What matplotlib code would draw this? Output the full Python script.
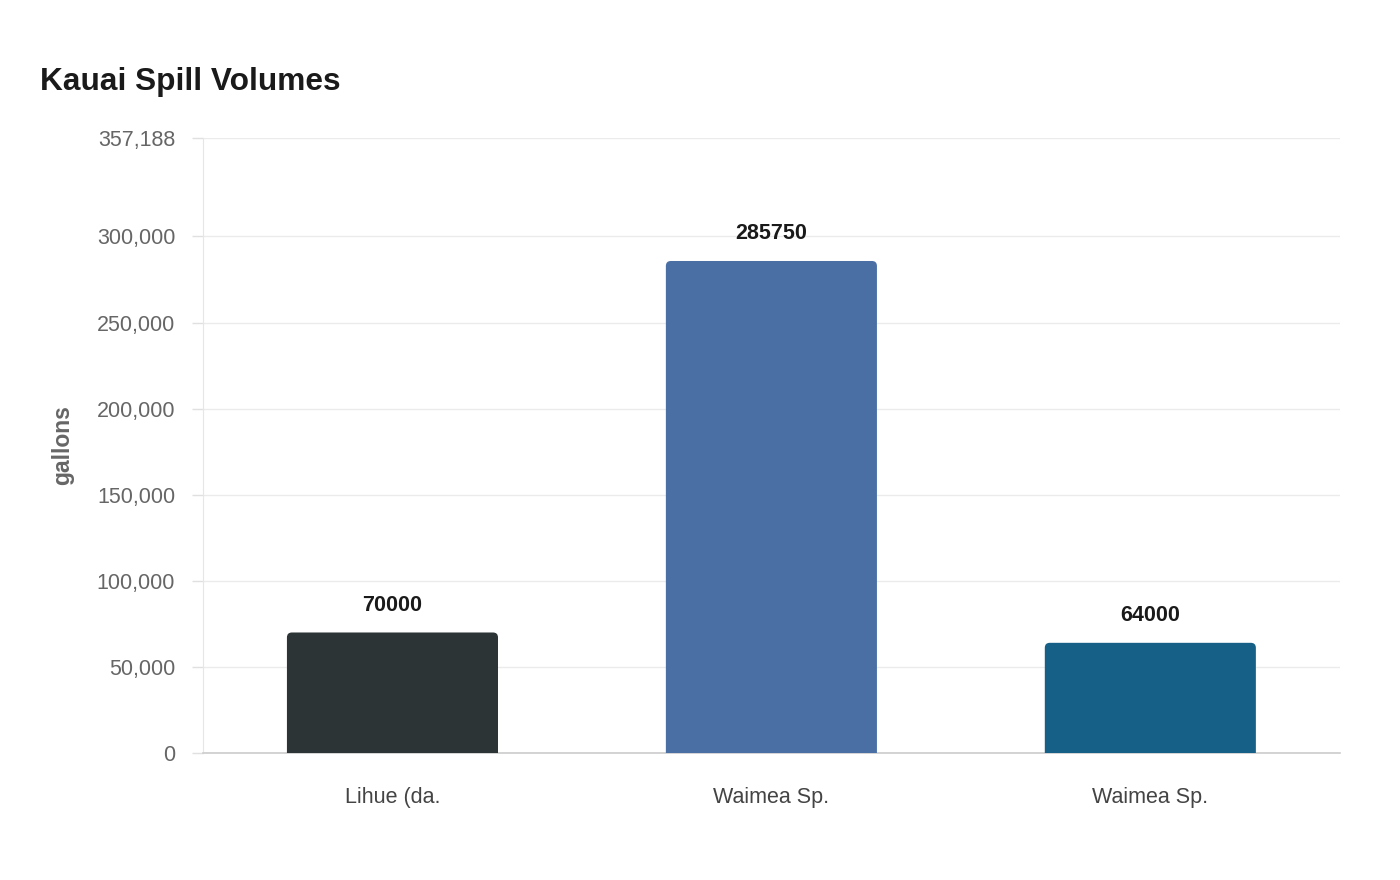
import matplotlib.pyplot as plt
from matplotlib.patches import PathPatch
from matplotlib.path import Path
from matplotlib.ticker import FuncFormatter

categories = ["Lihue (da.", "Waimea Sp.", "Waimea Sp."]
volumes = [70000, 285750, 64000]
bar_colors = ["#2d3436", "#4a6fa5", "#166088"]
y_max = 357188
y_ticks = [0, 50000, 100000, 150000, 200000, 250000, 300000, 357188]

plt.rcParams["font.family"] = ["Liberation Sans", "DejaVu Sans"]

fig = plt.figure(figsize=(14, 8.8), dpi=100)
ax = fig.add_axes([0.145, 0.1443, 0.812, 0.6989])

x = list(range(len(categories)))
bars = ax.bar(x, volumes, width=0.557, color=bar_colors, zorder=3)
ax.set_xlim(-0.5, len(categories) - 0.5)
ax.set_ylim(0, y_max)

# swap the square bars for ones with rounded top corners
fig.canvas.draw()
to_px = ax.transData
from_px = ax.transData.inverted()
r = 5  # px
for b in bars:
    x0, y0 = b.get_x(), b.get_y()
    x1, y1 = x0 + b.get_width(), y0 + b.get_height()
    (px0, py0), (px1, py1) = to_px.transform([(x0, y0), (x1, y1)])
    pts_px = [
        (px0, py0), (px0, py1 - r), (px0, py1), (px0 + r, py1),
        (px1 - r, py1), (px1, py1), (px1, py1 - r), (px1, py0), (px0, py0),
    ]
    codes = [Path.MOVETO, Path.LINETO, Path.CURVE3, Path.CURVE3,
             Path.LINETO, Path.CURVE3, Path.CURVE3, Path.LINETO, Path.CLOSEPOLY]
    verts = from_px.transform(pts_px)
    patch = PathPatch(Path(verts, codes), facecolor=b.get_facecolor(),
                      edgecolor="none", zorder=3)
    b.set_visible(False)
    ax.add_patch(patch)

for xi, v in zip(x, volumes):
    ax.annotate(str(v), (xi, v), xytext=(0, 19.5), textcoords="offset points",
                ha="center", va="center", fontsize=15.5, fontweight="bold",
                color="#1a1a1a")

ax.set_yticks(y_ticks)
ax.yaxis.set_major_formatter(FuncFormatter(lambda v, p: f"{int(round(v)):,}"))
ax.set_xticks(x)
ax.set_xticklabels(categories)
ax.tick_params(axis="y", colors="#e0e0e0", labelcolor="#666666", labelsize=15.5,
               length=8, width=1, pad=12)
ax.tick_params(axis="x", length=0, labelcolor="#444444", labelsize=15.5, pad=24.5)
ax.grid(axis="y", color="#ebebeb", linewidth=1, zorder=0)

for s in ("top", "right"):
    ax.spines[s].set_visible(False)
ax.spines["left"].set_color("#e6e6e6")
ax.spines["bottom"].set_color("#cccccc")
ax.spines["bottom"].set_linewidth(1.2)

fig.text(63 / 1400, 1 - 445 / 880, "gallons", rotation=90, fontsize=16.5,
         fontweight="bold", color="#666666", ha="center", va="center")
fig.text(40 / 1400, 1 - 82 / 880, "Kauai Spill Volumes", fontsize=22.8, fontweight="bold",
         color="#1a1a1a", ha="left", va="center")

fig.savefig("out.png", dpi=100, facecolor="white")
